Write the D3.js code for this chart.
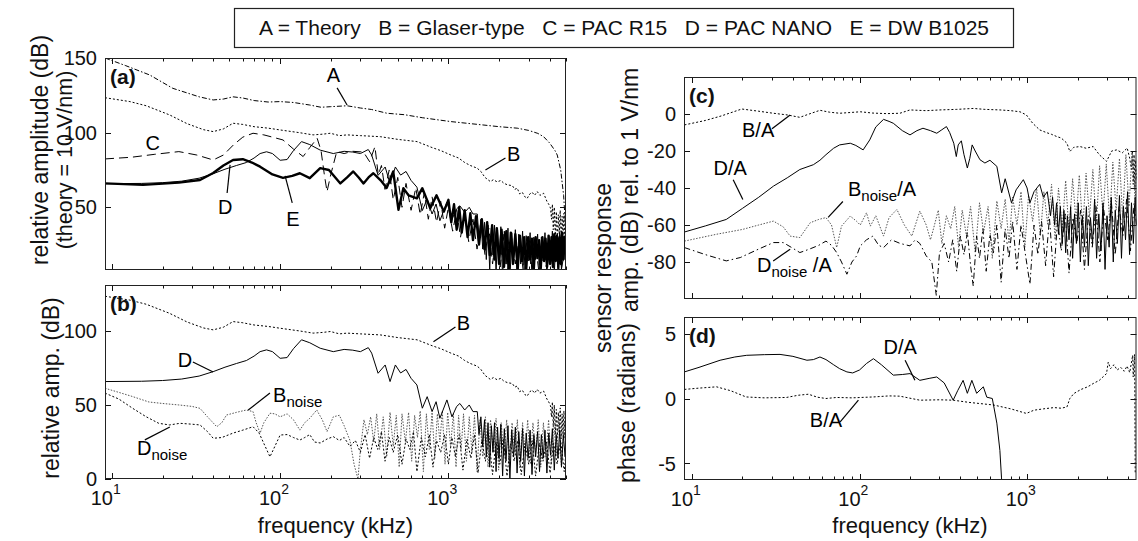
<!DOCTYPE html>
<html>
<head>
<meta charset="utf-8">
<script src="https://cdn.jsdelivr.net/npm/d3@7"></script>
<style>
body{margin:0;background:#fff;}
svg{display:block;font-family:"Liberation Sans",Arial,Helvetica,sans-serif;}
</style>
</head>
<body>
<svg id="fig" width="1138" height="541"></svg>
<script>

//================ data : [frequency kHz, value] ================//

// panel (a) + (b) : relative amplitude (dB)
var theoryA = [[9.1,150],[12,145],[16.8,138.6],[23,129.7],[33,124],[40,121.9],[46,122.5],[52.5,124],[60,123.2],[70,121.5],[85,120.5],[100,120.8],[120,120.2],[150,118.5],[175,117],[200,117.4],[250,118],[300,116.5],[350,115.5],[431,113],[550,112],[700,110],[1035,107.4],[1500,105.5],[2000,104],[2565,103],[3000,101.5],[3400,99.5],[3680,97.3],[4000,93],[4300,88],[4436,85],[4650,75],[4840,58],[4950,40],[5000,25]];

var glaserB = [[9.1,123.4],[12.8,120.8],[16,118],[22,111.9],[28,106],[35,102],[40,100.7],[46,102.5],[52.5,106.3],[60,105.5],[70,104],[85,103],[100,101.8],[130,100],[157,98.5],[180,99],[199,99.6],[225,98],[250,98.5],[300,98],[394,97.3],[500,95.5],[651,94],[800,90],[900,88],[1035,85],[1150,83],[1250,80],[1350,78],[1483,76.2],[1560,74],[1650,70],[1778,67.2],[1850,68.5],[1950,67],[2050,68],[2135,66.1],[2250,65],[2400,64.5],[2480,62],[2565,62.8],[2650,59],[2750,60],[2850,57],[2939,56],[3050,59],[3150,60],[3250,58],[3375,60.5],[3500,58],[3680,59.4],[3850,54],[3950,52],[4045,49.4],[4100,42],[4150,52],[4200,35],[4260,50],[4320,30],[4380,47],[4440,28],[4500,45],[4560,32],[4620,48],[4680,27],[4740,44],[4800,30],[4860,46],[4920,28],[5000,40]];

var pacR15C = [[9.1,82.4],[13,83.5],[18,85.5],[25,87.3],[32,85],[40,81.7],[46,85],[53,92],[60,97],[69,99.6],[80,98.5],[90,97],[104,95.1],[120,89],[137,84],[150,90],[166,96.2],[175,88],[183,72],[190,60.5],[200,72],[217,87.3],[240,86],[270,87.5],[313,87],[340,80.6],[366,90.6],[383,71.7],[400,78],[420,62],[445,75],[470,55],[500,70],[530,50],[560,66],[600,48],[640,63],[680,45],[720,60],[760,42],[800,57],[850,40],[900,54],[950,36],[1000,50],[1060,34],[1120,48],[1180,30],[1250,45],[1320,27],[1400,42],[1480,22],[1560,40],[1650,18],[1740,36],[1830,12],[1930,34],[2030,10],[2140,32],[2250,8],[2370,30],[2500,12],[2640,30],[2780,8],[2930,28],[3090,12],[3260,29],[3440,8],[3620,30],[3820,10],[4020,28],[4240,12],[4470,30],[4700,9],[5000,25]];

var pacNanoD = [[9.1,65.8],[15,66],[20,66.5],[26,67.5],[33,69.5],[40,72.5],[47,75.5],[55,78],[63,80],[70,83],[76,86],[83,87.2],[90,86],[100,81.5],[110,82],[120,88],[134,94],[150,92],[173,88.3],[207,86],[240,87.5],[270,87],[300,86],[334,88.7],[350,85],[382,71.4],[421,77],[450,65.8],[484,77],[520,71.6],[560,74],[600,68],[650,63.5],[700,47.8],[748,55.6],[800,45.5],[845,52.2],[890,41],[980,53.4],[1050,42],[1120,49],[1170,51],[1250,46.6],[1330,50],[1400,45.5],[1485,45.5],[1520,30],[1560,42],[1600,22],[1640,40],[1680,15],[1720,38],[1760,8],[1800,36],[1840,18],[1880,38],[1920,5],[1960,35],[2000,14],[2050,37],[2100,2],[2150,34],[2200,12],[2260,36],[2320,0],[2380,33],[2440,15],[2500,35],[2560,4],[2620,32],[2690,12],[2760,34],[2830,2],[2900,31],[2980,14],[3060,33],[3140,3],[3220,30],[3300,15],[3390,32],[3480,5],[3570,30],[3660,14],[3750,33],[3850,4],[3950,31],[4050,16],[4150,34],[4260,6],[4370,30],[4480,14],[4590,33],[4700,8],[4820,30],[4940,15],[5000,28]];

var dwB1025E = [[9.1,66],[15.3,65],[25,66.5],[33.4,68.3],[40,73],[46,78],[52.5,81.7],[60,82.2],[68,80],[76,77.2],[90,72],[104,69.7],[118,71],[131,72.8],[150,69.5],[173,76.2],[195,75],[228,66],[250,70],[272,74],[293,70],[313,66],[335,70],[358,72.8],[400,67.5],[430,63],[470,74],[505,48.3],[540,62.8],[580,58],[650,56],[700,62.8],[780,49.4],[850,58],[940,47.1],[1000,55],[1040,40],[1080,52],[1120,35],[1160,50],[1200,33],[1250,48],[1300,30],[1350,46],[1400,28],[1460,44],[1520,25],[1580,42],[1640,22],[1700,40],[1760,18],[1820,38],[1880,15],[1940,36],[2000,12],[2070,35],[2140,10],[2210,34],[2280,9],[2350,33],[2420,12],[2500,32],[2580,8],[2660,31],[2740,14],[2820,30],[2900,8],[2980,30],[3060,15],[3140,29],[3220,9],[3300,30],[3380,16],[3460,28],[3540,9],[3620,30],[3700,14],[3780,29],[3860,10],[3940,31],[4020,12],[4100,30],[4180,10],[4260,32],[4340,14],[4420,31],[4500,9],[4580,30],[4660,12],[4740,33],[4820,15],[4900,30],[5000,20]];

var noiseB = [[9.1,61.3],[13,56],[16.6,52],[20,51],[25,50],[30,49],[33.4,47.7],[37,42],[42,35.3],[45,38],[48,43.2],[55,45],[63,46.6],[69,45.5],[72,38],[76,31],[80,38],[87,44.4],[93,44],[100,42],[110,44],[120,40],[131,33],[140,38],[150,41],[165,46.6],[178,40],[190,32],[200,38],[207,42],[225,43],[240,36],[260,26],[275,10],[290,0],[300,20],[315,40],[330,30],[345,42],[360,25],[375,44],[390,20],[410,42],[430,15],[450,45],[470,22],[490,43],[510,8],[530,44],[555,25],[580,45],[605,12],[630,43],[655,28],[680,46],[710,5],[740,44],[770,20],[800,45],[830,14],[860,44],[890,25],[920,46],[955,10],[990,45],[1030,22],[1070,44],[1110,8],[1150,43],[1190,20],[1230,44],[1280,12],[1330,42],[1380,18],[1430,43],[1480,5],[1540,40],[1600,15],[1660,42],[1720,8],[1780,40],[1850,18],[1920,41],[1990,6],[2060,38],[2140,15],[2220,40],[2300,10],[2390,38],[2480,18],[2570,40],[2660,7],[2760,38],[2860,16],[2960,40],[3070,10],[3180,38],[3300,18],[3420,40],[3540,8],[3670,38],[3800,15],[3940,40],[4080,10],[4230,38],[4380,16],[4540,40],[4700,8],[4870,38],[5000,20]];

var noiseD = [[9.1,58],[11,54],[13.3,47.7],[16,42],[19,37.6],[22,36.5],[25.4,37.6],[30,37],[33.4,36.5],[37,32],[40,27.5],[45,28],[52.5,31],[60,33],[69,35.3],[75,31],[80,24],[87,15],[93,22],[100,29.7],[110,30],[120,28],[131,26.3],[140,28],[150,30],[160,25],[173,24.3],[190,27],[207,28.6],[225,26],[240,28],[260,22],[280,26],[300,18],[320,30],[340,14],[360,28],[380,20],[400,32],[420,12],[445,28],[470,18],[500,30],[530,10],[560,27],[590,20],[620,32],[650,5],[690,28],[730,15],[770,30],[810,8],[850,26],[900,18],[950,30],[1000,10],[1050,28],[1100,15],[1160,30],[1220,6],[1290,27],[1360,14],[1430,30],[1500,4],[1580,26],[1660,12],[1740,28],[1830,3],[1920,25],[2020,10],[2120,27],[2230,2],[2340,24],[2460,12],[2580,26],[2710,3],[2850,24],[3000,10],[3150,26],[3300,2],[3470,24],[3650,12],[3830,25],[4020,4],[4220,24],[4430,10],[4650,26],[4880,5],[5000,18]];

// panel (c) : amp. (dB) rel. to 1 V/nm
var ratioBA = [[9,-5.9],[12,-3.5],[15,-1],[19.8,2.7],[25,1.5],[30.6,0.4],[37,-0.5],[44,-1.8],[50,0],[58,2],[66,1],[76,0.4],[88,0.8],[101,1.2],[120,0.5],[145,0.2],[174,0.4],[200,2.2],[250,1.8],[302,2.2],[380,2.5],[477,3],[560,2.5],[688,2.2],[800,1.8],[907,1.2],[990,-0.5],[1080,-5],[1190,-8.6],[1300,-10],[1400,-11],[1505,-12.2],[1600,-13],[1730,-15.8],[1800,-20.3],[1900,-18],[2070,-17.6],[2250,-18.5],[2480,-17.6],[2700,-22],[2980,-25.6],[3200,-20],[3430,-19.4],[3700,-21],[3960,-18.4],[4100,-24],[4200,-30],[4250,-20],[4300,-38],[4350,-22],[4400,-40],[4450,-25],[4500,-35]];

var ratioDA = [[9,-63.8],[12,-60.5],[16,-57],[20,-51],[25,-45],[30.6,-39],[37,-34.5],[44,-30],[53,-27.4],[58,-25],[63,-22],[70,-18.5],[76,-16.7],[88,-15.8],[95,-17],[105,-19.4],[115,-14],[125,-7],[139,-2.9],[150,-4],[159,-5],[180,-9],[200,-11.3],[220,-9],[239,-7.7],[265,-9],[289,-10.4],[310,-8.5],[330,-6.8],[345,-10],[365,-15.8],[378,-23],[388,-16.7],[405,-14.5],[420,-22],[440,-29.2],[455,-24],[470,-16.7],[490,-20],[523,-24.7],[560,-26.5],[600,-25],[660,-28.3],[705,-42.6],[740,-35],[807,-48],[860,-41],[950,-35.5],[1000,-40],[1040,-48],[1100,-42],[1190,-38],[1250,-45],[1320,-42],[1380,-55],[1420,-45],[1460,-60],[1500,-48],[1540,-65],[1580,-50],[1620,-70],[1660,-52],[1700,-75],[1740,-55],[1780,-68],[1820,-50],[1870,-78],[1920,-54],[1970,-70],[2020,-48],[2080,-80],[2140,-55],[2200,-72],[2260,-50],[2320,-82],[2390,-56],[2460,-70],[2530,-46],[2600,-78],[2680,-54],[2760,-74],[2840,-48],[2920,-84],[3000,-55],[3090,-72],[3180,-45],[3270,-80],[3360,-52],[3460,-70],[3560,-44],[3660,-78],[3760,-50],[3870,-68],[3980,-42],[4090,-76],[4200,-48],[4310,-70],[4420,-45],[4500,-60]];

var ratioBnA = [[9,-68.7],[14,-65],[20,-62.4],[25,-60],[30.6,-57.9],[35,-61],[38.5,-66],[44,-66.8],[50.7,-58.8],[57,-57],[63,-56],[68,-60],[73,-72.2],[78,-60.6],[88,-55.2],[96,-58],[101,-60],[110,-53.4],[116,-60.6],[125,-55],[139,-66],[150,-56],[167,-51.6],[185,-60],[205,-66],[229,-52.5],[250,-60],[265,-68],[280,-60],[295,-52],[310,-70],[330,-55],[350,-62],[370,-50],[390,-72],[410,-52],[435,-66],[460,-50],[490,-75],[520,-48],[550,-64],[585,-50],[620,-78],[660,-47],[700,-62],[740,-46],[780,-70],[820,-45],[870,-60],[920,-42],[970,-72],[1020,-44],[1080,-58],[1140,-40],[1200,-66],[1260,-42],[1330,-60],[1400,-38],[1470,-68],[1540,-40],[1620,-62],[1700,-36],[1780,-64],[1870,-35],[1960,-58],[2050,-33],[2150,-62],[2250,-32],[2360,-56],[2470,-30],[2590,-60],[2710,-28],[2840,-55],[2970,-27],[3110,-58],[3250,-26],[3400,-52],[3560,-24],[3720,-56],[3890,-22],[4060,-50],[4240,-20],[4420,-48],[4500,-30]];

var ratioDnA = [[9,-72.2],[12,-76],[16,-79.4],[19.4,-77.6],[25,-73],[30.6,-69.5],[35,-69.5],[39,-72],[44,-74.9],[50,-73.1],[57,-71],[63,-68.7],[68,-71],[73,-74.9],[78,-80],[84,-86.6],[90,-80],[96,-76.7],[101,-71.3],[110,-68],[120,-66],[130,-71],[139,-72.2],[155,-68],[175,-70],[200,-71.3],[215,-68],[229,-70],[250,-76.7],[270,-80],[287,-98],[300,-75],[320,-70],[340,-80],[360,-68],[380,-85],[400,-66],[420,-76],[440,-64],[460,-82],[477,-93],[500,-66],[520,-78],[545,-62],[570,-85],[600,-65],[630,-75],[660,-60],[700,-91],[740,-62],[780,-78],[820,-58],[870,-84],[920,-60],[970,-74],[1040,-92],[1100,-60],[1160,-76],[1220,-58],[1290,-82],[1360,-56],[1440,-88],[1520,-58],[1600,-74],[1690,-54],[1780,-86],[1880,-56],[1980,-70],[2090,-52],[2200,-84],[2320,-55],[2450,-72],[2580,-50],[2720,-80],[2870,-52],[3030,-68],[3190,-48],[3360,-76],[3540,-50],[3730,-66],[3930,-46],[4140,-74],[4360,-48],[4500,-60]];

// panel (d) : phase (radians)
var phaseDA = [[9,2.05],[11,2.4],[14.7,2.95],[18,3.2],[21.2,3.33],[27,3.38],[33.5,3.4],[40,3.25],[48.5,2.95],[53,3.0],[58,3.2],[63,3.0],[70,2.6],[76,2.3],[84,2.05],[91,1.97],[100,2.2],[110,2.7],[121,3.07],[135,2.6],[159,1.8],[180,1.85],[200,1.92],[229,1.4],[260,1.55],[289,1.66],[320,1.2],[362,-0.13],[385,0.6],[415,1.4],[440,0.4],[468,1.4],[500,0.4],[548,0.9],[575,0.1],[620,0],[660,-1.9],[688,-4],[705,-6.3],[715,-7]];

var phaseBA = [[9,0.7],[11,0.8],[14,0.9],[17,0.6],[21,0.12],[27,0.05],[36.6,0.08],[43,0.25],[49.5,0.33],[56,0.1],[63,0],[73,0.08],[90,0.05],[121,0.12],[150,0.2],[174,0.18],[229,-0.13],[300,-0.1],[362,-0.13],[450,-0.3],[630,-0.5],[800,-0.8],[990,-1.15],[1100,-0.9],[1250,-0.8],[1450,-0.7],[1600,-0.75],[1730,-0.65],[1800,0.0],[1900,0.38],[2100,0.7],[2300,0.9],[2480,1.15],[2700,1.4],[2980,1.92],[3050,2.8],[3150,2.3],[3300,2.6],[3450,2.2],[3625,2.4],[3800,2.1],[3950,2.5],[4100,2.0],[4270,3.33],[4300,1.66],[4350,2.8],[4380,3.4],[4400,0.2],[4420,-5.8]];

// axis ticks
var ticksYa = [50,100,150];
var ticksYb = [0,50,100];
var ticksYc = [-80,-60,-40,-20,0];
var ticksYd = [-5,0,5];
var decadeLabels = [10,100,1000];

var legendText = "A = Theory   B = Glaser-type   C = PAC R15   D = PAC NANO   E = DW B1025";


//###############################################################//
//                          draw figure                          //
//###############################################################//

var svg = d3.select("#fig");
var ink = "#111";

var xAB = d3.scaleLog().domain([9.1,5000]).range([105,566]);
var xCD = d3.scaleLog().domain([8.95,4500]).range([684,1136.5]);

var panels = {
  a: {x:xAB, y:d3.scaleLinear().domain([8,150]).range([270,58]),  ticks:ticksYa, xlab:false, tag:"(a)"},
  b: {x:xAB, y:d3.scaleLinear().domain([0,131]).range([479,285]), ticks:ticksYb, xlab:true,  tag:"(b)"},
  c: {x:xCD, y:d3.scaleLinear().domain([-100,20]).range([299,77]), ticks:ticksYc, xlab:false, tag:"(c)"},
  d: {x:xCD, y:d3.scaleLinear().domain([-2*Math.PI,2*Math.PI]).range([480,317]), ticks:ticksYd, xlab:true, tag:"(d)"}
};

Object.keys(panels).forEach(function(k){ drawFrame(k, panels[k]); });

function drawFrame(k, p){
  var x0 = p.x.range()[0], x1 = p.x.range()[1];
  var y0 = p.y.range()[1], y1 = p.y.range()[0];
  var g = svg.append("g").attr("class","panel-"+k);

  svg.append("clipPath").attr("id","clip-"+k)
     .append("rect").attr("x",x0).attr("y",y0).attr("width",x1-x0).attr("height",y1-y0);

  p.g = g;
  p.lines = g.append("g").attr("clip-path","url(#clip-"+k+")");

  // x ticks (log) top and bottom, inward
  var xt = p.x.ticks().filter(function(d){ return d>=p.x.domain()[0] && d<=p.x.domain()[1]; });
  xt.forEach(function(d){
     var major = Math.abs(Math.log10(d) - Math.round(Math.log10(d))) < 1e-9;
     var len = major ? 6 : 3.5;
     var xx = Math.round(p.x(d)) + 0.5;
     g.append("line").attr("x1",xx).attr("x2",xx).attr("y1",y1).attr("y2",y1-len).attr("stroke",ink);
     g.append("line").attr("x1",xx).attr("x2",xx).attr("y1",y0).attr("y2",y0+len).attr("stroke",ink);
  });

  // y ticks left and right + labels
  p.ticks.forEach(function(v){
     var yy = Math.round(p.y(v)) + 0.5;
     g.append("line").attr("x1",x0).attr("x2",x0+6).attr("y1",yy).attr("y2",yy).attr("stroke",ink);
     g.append("line").attr("x1",x1).attr("x2",x1-6).attr("y1",yy).attr("y2",yy).attr("stroke",ink);
     g.append("text").attr("x",x0-8).attr("y",p.y(v)).attr("dy","0.36em")
      .attr("text-anchor","end").attr("font-size",20).attr("fill",ink).text(v);
  });

  if(p.xlab){
     decadeLabels.forEach(function(d){
        var t = g.append("text").attr("x",p.x(d)+1).attr("y",y1+26).attr("font-size",20).attr("fill",ink);
        t.append("tspan").attr("text-anchor","end").text("10");
        g.append("text").attr("x",p.x(d)+1).attr("y",y1+15).attr("font-size",14).attr("fill",ink)
         .text(Math.round(Math.log10(d)));
     });
  }

  g.append("rect").attr("x",x0+0.5).attr("y",y0+0.5).attr("width",x1-x0-1).attr("height",y1-y0-1)
   .attr("fill","none").attr("stroke","#222").attr("stroke-width",1);

  g.append("text").attr("x",x0+5).attr("y",y0+26).attr("font-size",21).attr("font-weight","bold")
   .attr("fill",ink).text(p.tag);
}


//======= curves
var series = [
  {p:"a", data:theoryA,  dash:"5,2,1.5,2", w:1},
  {p:"a", data:glaserB,  dash:"2,2",       w:1},
  {p:"a", data:pacR15C,  dash:"9,5",       w:1},
  {p:"a", data:pacNanoD, dash:null,        w:1},
  {p:"a", data:dwB1025E, dash:null,        w:2.4},
  {p:"b", data:glaserB,  dash:"2,2",       w:1},
  {p:"b", data:noiseB,   dash:"1.5,1.5",   w:1, c:"#555"},
  {p:"b", data:noiseD,   dash:"2,2",       w:1},
  {p:"b", data:pacNanoD, dash:null,        w:1},
  {p:"c", data:ratioBA,  dash:"2,2",       w:1},
  {p:"c", data:ratioBnA, dash:"1.5,1.5",   w:1, c:"#555"},
  {p:"c", data:ratioDnA, dash:"6,3,1.5,3", w:1},
  {p:"c", data:ratioDA,  dash:null,        w:1},
  {p:"d", data:phaseBA,  dash:"2,2",       w:1},
  {p:"d", data:phaseDA,  dash:null,        w:1}
];

series.forEach(function(s){
  var p = panels[s.p];
  var line = d3.line().x(function(d){ return p.x(d[0]); }).y(function(d){ return p.y(d[1]); });
  p.lines.append("path").attr("d",line(s.data)).attr("fill","none")
     .attr("stroke",s.c || "#000").attr("stroke-width",s.w)
     .attr("stroke-dasharray",s.dash).attr("stroke-linejoin","round");
});


//======= curve labels with leader lines (data coordinates)
var notes = [
  {p:"a", t:"A", f:207,  v:134,  lead:[[218,130],[250,118.5]]},
  {p:"a", t:"B", f:2440, v:81,   lead:[[2183,83],[1660,75]]},
  {p:"a", t:"C", f:17.5, v:88.4},
  {p:"a", t:"D", f:47.1, v:45.6, lead:[[48.4,59.6],[50.4,78.4]]},
  {p:"a", t:"E", f:119,  v:37.6, lead:[[118,53],[107,71]]},
  {p:"b", t:"D", f:27.2, v:75.7, lead:[[30.3,79],[40,72.3]]},
  {p:"b", t:"B", f:1227, v:100.7,lead:[[1101,102.7],[815,92.6]]},
  {p:"b", t:"B", sub:"noise", f:90.8, v:52, anchor:"start", lead:[[87,58.1],[64.6,46.6]]},
  {p:"b", t:"D", sub:"noise", f:14.1, v:16.2, anchor:"start", lead:[[15.7,26.4],[22.1,35.1]]},
  {p:"c", t:"B/A", f:24.8, v:-12.2, lead:[[30,-8],[38.5,-0.5]]},
  {p:"c", t:"D/A", f:16.9, v:-32.8, lead:[[17.6,-35.5],[20.1,-46.2]]},
  {p:"c", t:"B", sub:"noise", tail:"/A", f:85.3, v:-44.5, anchor:"start", lead:[[79.5,-47.3],[64.9,-55.9]]},
  {p:"c", t:"D", sub:"noise", tail:" /A", f:24.4, v:-85.6, anchor:"start", lead:[[30.5,-79.4],[38.5,-73.1]]},
  {p:"d", t:"D/A", f:175, v:3.46, lead:[[187,2.95],[214,1.4]]},
  {p:"d", t:"B/A", f:63,  v:-2.18, lead:[[76.6,-1.8],[98.4,-0.13]]}
];

notes.forEach(function(n){
  var p = panels[n.p];
  if(n.lead){
    p.g.append("line")
      .attr("x1",p.x(n.lead[0][0])).attr("y1",p.y(n.lead[0][1]))
      .attr("x2",p.x(n.lead[1][0])).attr("y2",p.y(n.lead[1][1]))
      .attr("stroke","#000").attr("stroke-width",1.2);
  }
  var t = p.g.append("text").attr("x",p.x(n.f)).attr("y",p.y(n.v))
     .attr("text-anchor",n.anchor || "middle").attr("font-size",20).attr("fill","#000");
  t.append("tspan").text(n.t);
  if(n.sub){
    t.append("tspan").attr("font-size",15).attr("dy",5).text(n.sub);
    if(n.tail) t.append("tspan").attr("dy",-5).text(n.tail);
  }
});


//======= axis titles
function title(txt, x, y, rot, size){
  svg.append("text").attr("transform","translate("+x+","+y+")"+(rot ? " rotate(-90)" : ""))
     .attr("text-anchor","middle").attr("font-size",size || 23).attr("fill",ink).text(txt);
}
title("relative amplitude (dB)", 48, 150, true);
title("(theory = 10 V/nm)", 72, 160, true, 21.5);
title("relative amp. (dB)", 59, 388, true);
title("frequency (kHz)", 335.5, 533, false, 22);
title("frequency (kHz)", 910, 533, false, 22);
title("sensor response", 611, 268, true);
title("amp. (dB) rel. to 1 V/nm", 638, 190, true);
title("phase (radians)", 635, 403, true);


//======= legend box
svg.append("rect").attr("x",234.5).attr("y",8.5).attr("width",779).attr("height",39)
   .attr("fill","#fff").attr("stroke","#222").attr("stroke-width",1.2);
svg.append("text").attr("x",624).attr("y",35).attr("text-anchor","middle")
   .attr("font-size",21).attr("fill",ink).style("white-space","pre").text(legendText);

</script>
</body>
</html>
